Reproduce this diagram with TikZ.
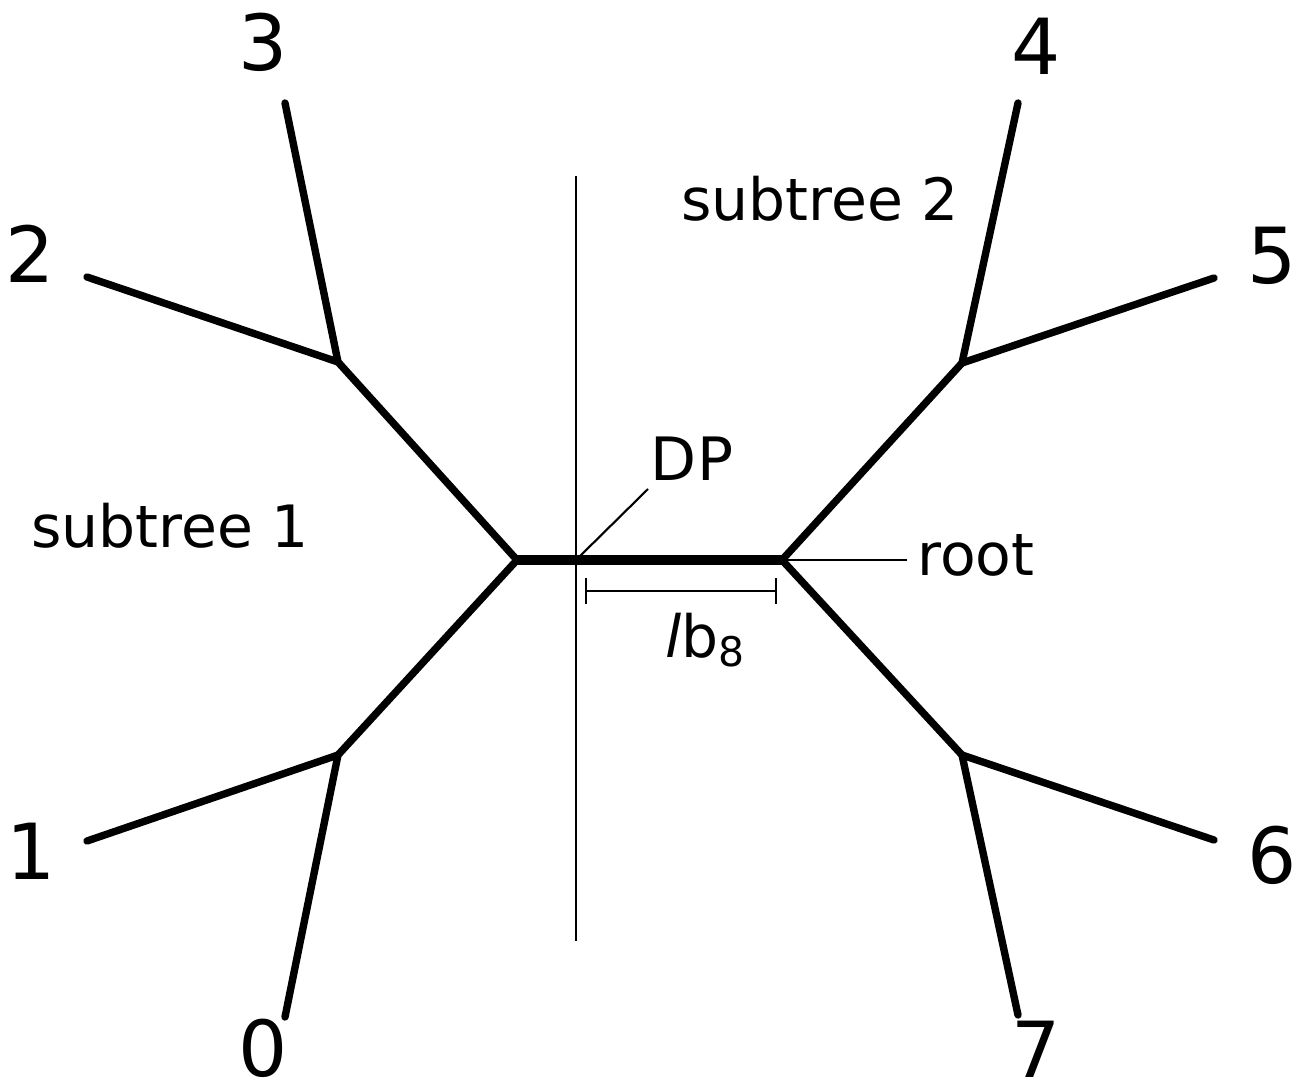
\documentclass[tikz,border=0pt]{standalone}
\usepackage{fontspec}
\setmainfont{DejaVu Sans}
\begin{document}
\begin{tikzpicture}[x=0.01cm,y=-0.01cm,
  branch/.style={line width=2.1pt,line cap=round,line join=miter},
  mainbranch/.style={line width=2.6pt},
  thinline/.style={line width=0.6pt},
  leaflabel/.style={font=\fontsize{22}{23}\selectfont,inner sep=0pt},
  txt/.style={font=\fontsize{16.6}{16}\selectfont,inner sep=0pt}]
\useasboundingbox (0,0) rectangle (1300,1091);
% internal coordinates
\coordinate (L) at (517,560);
\coordinate (R) at (782,560);
\coordinate (A) at (338,362);
\coordinate (B) at (338,755);
\coordinate (C) at (962,363);
\coordinate (D) at (962,755);
% leaf end points
\coordinate (e0) at (285,1017);
\coordinate (e1) at (87,841);
\coordinate (e2) at (87,277);
\coordinate (e3) at (285,103);
\coordinate (e4) at (1018,103);
\coordinate (e5) at (1214,278);
\coordinate (e6) at (1214,840);
\coordinate (e7) at (1018,1015);
% leaf labels
\node[leaflabel] (n0) at (263,1048) {0};
\node[leaflabel] (n1) at (31,851) {1};
\node[leaflabel] (n2) at (30,254) {2};
\node[leaflabel] (n3) at (263,42) {3};
\node[leaflabel] (n4) at (1036,46) {4};
\node[leaflabel] (n5) at (1272,256) {5};
\node[leaflabel] (n6) at (1272,855) {6};
\node[leaflabel] (n7) at (1036,1049) {7};
% thin lines
\coordinate (vtop) at (576,176);
\coordinate (vbot) at (576,941);
\coordinate (dp) at (576,560);
\coordinate (dpend) at (648,489);
\coordinate (rootend) at (907,560);
\draw[thinline] (vtop) -- (vbot);
\draw[thinline] (dp) -- (dpend);
\draw[thinline] (R) -- (rootend);
% tree
\draw[branch] (e3) -- (A) -- (L) -- (B) -- (e0);
\draw[branch] (e2) -- (A);
\draw[branch] (e1) -- (B);
\draw[branch] (e4) -- (C) -- (R) -- (D) -- (e7);
\draw[branch] (e5) -- (C);
\draw[branch] (e6) -- (D);
\draw[mainbranch] (L) -- (R);
% length bar
\coordinate (bl) at (586,591);
\coordinate (br) at (776,591);
\draw[thinline,line width=0.8pt] (bl) -- (br);
\draw[thinline,line width=0.8pt] ([yshift=-0.13cm]bl) -- ([yshift=0.13cm]bl);
\draw[thinline,line width=0.8pt] ([yshift=-0.13cm]br) -- ([yshift=0.13cm]br);
% texts
\node[txt] (dplabel) at (692,459) {\fontsize{17}{17}\selectfont DP};
\node[txt] (rootlabel) at (976,555) {root};
\node[txt] (blabel) at (706,640) {\textit{l}b$_{\mathrm{8}}$};
\node[txt] (st1) at (170,526) {subtree 1};
\node[txt] (st2) at (820,199) {subtree 2};
\end{tikzpicture}
\end{document}
